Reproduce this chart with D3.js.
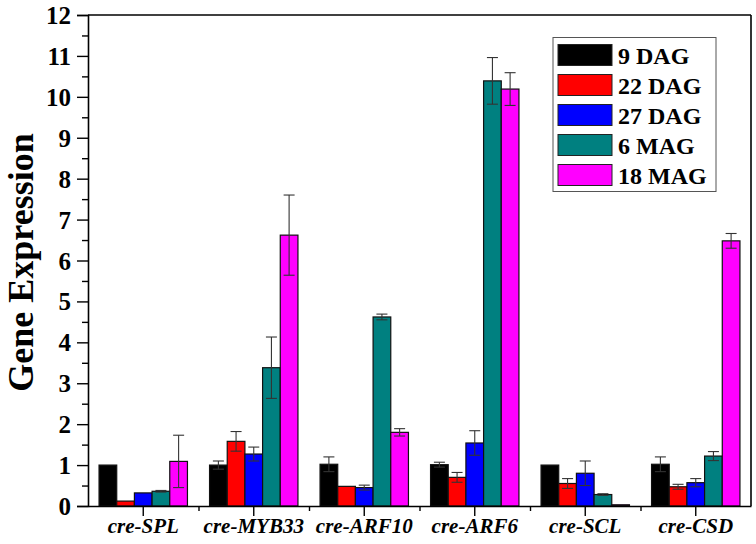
<!DOCTYPE html>
<html>
<head>
<meta charset="utf-8">
<script src="https://cdn.jsdelivr.net/npm/d3@7"></script>
<style>
  body { margin: 0; background: #fff; }
  text { font-family: "Liberation Serif", "Times New Roman", serif; font-weight: bold; }
</style>
</head>
<body>
<svg id="chart" width="756" height="544"></svg>
<script>
// Grouped bar chart: relative gene expression per stage, with error bars

const genes = ['cre-SPL', 'cre-MYB33', 'cre-ARF10', 'cre-ARF6', 'cre-SCL', 'cre-CSD'];
const stages = ['9 DAG', '22 DAG', '27 DAG', '6 MAG', '18 MAG'];
const stageColors = ['#000000', '#ff0000', '#0000ff', '#008080', '#ff00ff'];

// values per stage, one entry per gene (same order as genes)
const dag9  = [1.00, 1.00, 1.02, 1.01, 1.00, 1.02];
const dag22 = [0.12, 1.58, 0.48, 0.70, 0.55, 0.47];
const dag27 = [0.32, 1.27, 0.45, 1.54, 0.80, 0.57];
const mag6  = [0.36, 3.38, 4.62, 10.39, 0.28, 1.22];
const mag18 = [1.09, 6.62, 1.80, 10.19, 0.03, 6.48];

// standard errors, same layout
const dag9Err  = [0.00, 0.10, 0.18, 0.06, 0.00, 0.18];
const dag22Err = [0.00, 0.24, 0.00, 0.12, 0.12, 0.06];
const dag27Err = [0.00, 0.17, 0.06, 0.30, 0.30, 0.10];
const mag6Err  = [0.02, 0.75, 0.07, 0.57, 0.02, 0.11];
const mag18Err = [0.64, 0.98, 0.09, 0.40, 0.00, 0.18];

const yTicks = [0, 1, 2, 3, 4, 5, 6, 7, 8, 9, 10, 11, 12];

const MARGIN = { top: 15, right: 5, bottom: 38, left: 88 };
const WIDTH = 756 - MARGIN.left - MARGIN.right;
const HEIGHT = 544 - MARGIN.top - MARGIN.bottom;

const seriesVals = [dag9, dag22, dag27, mag6, mag18];
const seriesErrs = [dag9Err, dag22Err, dag27Err, mag6Err, mag18Err];

const rows = [];
genes.forEach((g, gi) => {
  stages.forEach((s, si) => {
    rows.push({ gene: g, stage: s, value: seriesVals[si][gi], err: seriesErrs[si][gi], color: stageColors[si] });
  });
});

const svg = d3.select('#chart');
const g = svg.append('g').attr('transform', `translate(${MARGIN.left},${MARGIN.top})`);

const x0 = d3.scaleBand().domain(genes).range([0, WIDTH]).padding(0);
const x1 = d3.scaleBand().domain(stages)
  .range([x0.bandwidth() * 0.1, x0.bandwidth() * 0.9]).padding(0);
const y = d3.scaleLinear().domain([0, 12]).range([HEIGHT, 0]);

// bars
g.selectAll('rect.bar')
  .data(rows)
  .enter().append('rect')
  .attr('class', 'bar')
  .attr('x', d => x0(d.gene) + x1(d.stage))
  .attr('y', d => y(d.value))
  .attr('width', x1.bandwidth())
  .attr('height', d => y(0) - y(d.value))
  .attr('fill', d => d.color)
  .attr('stroke', '#111')
  .attr('stroke-width', 1.2);

// error bars
const errRows = rows.filter(d => d.err > 0);
const capW = 5.5;
const eb = g.selectAll('g.err').data(errRows).enter().append('g').attr('class', 'err')
  .attr('stroke', '#333').attr('stroke-width', 1.1);
eb.append('line')
  .attr('x1', d => x0(d.gene) + x1(d.stage) + x1.bandwidth() / 2)
  .attr('x2', d => x0(d.gene) + x1(d.stage) + x1.bandwidth() / 2)
  .attr('y1', d => y(d.value - d.err))
  .attr('y2', d => y(d.value + d.err));
eb.append('line')
  .attr('x1', d => x0(d.gene) + x1(d.stage) + x1.bandwidth() / 2 - capW)
  .attr('x2', d => x0(d.gene) + x1(d.stage) + x1.bandwidth() / 2 + capW)
  .attr('y1', d => y(d.value + d.err))
  .attr('y2', d => y(d.value + d.err));
eb.append('line')
  .attr('x1', d => x0(d.gene) + x1(d.stage) + x1.bandwidth() / 2 - capW)
  .attr('x2', d => x0(d.gene) + x1(d.stage) + x1.bandwidth() / 2 + capW)
  .attr('y1', d => y(d.value - d.err))
  .attr('y2', d => y(d.value - d.err));

// y axis: major ticks + minor ticks
const yAxis = g.append('g').attr('class', 'y-axis')
  .call(d3.axisLeft(y).tickValues(yTicks).tickSize(11).tickPadding(6).tickFormat(d3.format('d')));
g.append('g')
  .call(d3.axisLeft(y).tickValues(d3.range(0.5, 12, 1)).tickSize(6).tickFormat(''))
  .select('.domain').remove();

// x axis: major ticks at gene centres, minor at boundaries
const xAxis = g.append('g').attr('class', 'x-axis')
  .attr('transform', `translate(0,${HEIGHT})`)
  .call(d3.axisBottom(x0).tickSize(10).tickSizeOuter(0).tickPadding(2));
g.append('g')
  .attr('transform', `translate(0,${HEIGHT})`)
  .call(d3.axisBottom(d3.scaleLinear().domain([0, genes.length]).range([0, WIDTH]))
    .tickValues(d3.range(1, genes.length)).tickSize(5).tickFormat(''))
  .select('.domain').remove();

// frame top and right
g.append('line').attr('x1', 0).attr('x2', WIDTH).attr('y1', 0).attr('y2', 0)
  .attr('stroke', '#000').attr('stroke-width', 1.6);
g.append('line').attr('x1', WIDTH).attr('x2', WIDTH).attr('y1', 0).attr('y2', HEIGHT)
  .attr('stroke', '#000').attr('stroke-width', 1.6);

svg.selectAll('.domain').attr('stroke-width', 1.6);
svg.selectAll('.tick line').attr('stroke-width', 1.4);

yAxis.selectAll('text').style('font-size', '25px').attr('dy', '0.34em');
xAxis.selectAll('text').style('font-size', '21px').style('font-style', 'italic');

// y axis title
g.append('text')
  .attr('transform', 'rotate(-90)')
  .attr('x', -HEIGHT / 2 - 2)
  .attr('y', -55)
  .attr('text-anchor', 'middle')
  .style('font-size', '36px')
  .text('Gene Expression');

// legend
const legend = svg.append('g').attr('transform', 'translate(553,37.5)');
legend.append('rect').attr('width', 163).attr('height', 154)
  .attr('fill', '#fff').attr('stroke', '#555').attr('stroke-width', 1);
const li = legend.selectAll('g.item').data(stages).enter().append('g')
  .attr('transform', (d, i) => `translate(5,${7 + i * 30})`);
li.append('rect').attr('width', 54).attr('height', 21)
  .attr('fill', (d, i) => stageColors[i]).attr('stroke', '#222').attr('stroke-width', 1);
li.append('text').attr('x', 60).attr('y', 19)
  .style('font-size', '24px').text(d => d);
</script>
</body>
</html>
